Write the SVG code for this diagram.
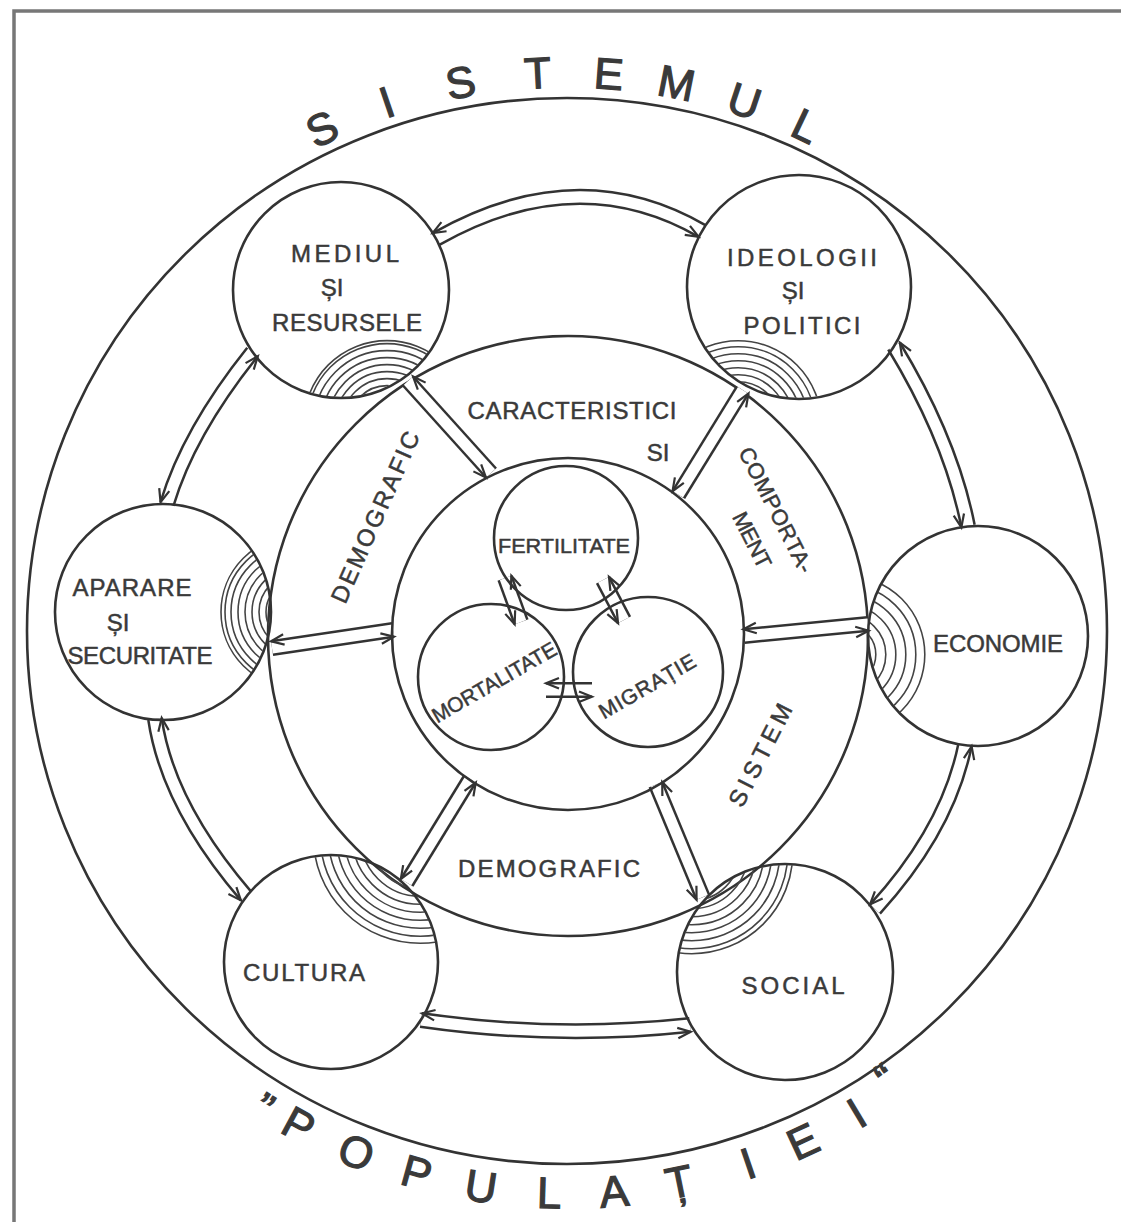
<svg xmlns="http://www.w3.org/2000/svg" width="1123" height="1228" viewBox="0 0 1123 1228">
<defs>
<style>
.ln{fill:none;stroke:#333;stroke-width:2.6}
.fr{fill:none;stroke:#777;stroke-width:3.5}
.h{fill:none;stroke:#444;stroke-width:1.6}
.o{fill:none;stroke:#333;stroke-width:16}
.i{fill:none;stroke:#fff;stroke-width:11}
.m{fill:none;stroke:none;marker-start:url(#ah);marker-end:url(#ah)}
text{font-family:"Liberation Sans",Arial,sans-serif;fill:#3a3a3a}
.t{font-size:24px;text-anchor:middle;dominant-baseline:central;stroke:#3a3a3a;stroke-width:0.5}
.c{font-size:22px;text-anchor:middle;dominant-baseline:central;stroke:#3a3a3a;stroke-width:0.5}
.s{font-size:21px;text-anchor:middle;dominant-baseline:central;stroke:#3a3a3a;stroke-width:0.5}
.big{font-size:44px;text-anchor:middle;dominant-baseline:central;stroke:#3a3a3a;stroke-width:1.2}
</style>
<marker id="ah" markerUnits="userSpaceOnUse" markerWidth="40" markerHeight="40" viewBox="-20 -20 40 40" refX="0" refY="0" orient="auto-start-reverse" overflow="visible">
<path d="M-13,1.5 L0,6.75 L-13,12" fill="none" stroke="#333" stroke-width="2.2"/>
</marker>
<clipPath id="k1"><circle cx="341" cy="290" r="107"/></clipPath>
<clipPath id="k2"><circle cx="799" cy="287" r="111"/></clipPath>
<clipPath id="k3"><circle cx="163" cy="612" r="107"/></clipPath>
<clipPath id="k4"><circle cx="978" cy="636" r="109"/></clipPath>
<clipPath id="k5"><circle cx="331" cy="962" r="106"/></clipPath>
<clipPath id="k6"><circle cx="785" cy="972" r="107"/></clipPath>
</defs>
<rect x="0" y="0" width="1123" height="1228" fill="#fff"/>
<g id="frame">
<polyline class="fr" points="14,1222 14,11 1121,11"/>
</g>
<g id="system-outer">
<ellipse class="ln" cx="567" cy="631" rx="540" ry="533"/>
<text class="big" x="567" y="72" transform="rotate(-26 567 631)">S</text>
<text class="big" x="567" y="72" transform="rotate(-18.8 567 631)">I</text>
<text class="big" x="567" y="72" transform="rotate(-11 567 631)">S</text>
<text class="big" x="567" y="72" transform="rotate(-3 567 631)">T</text>
<text class="big" x="567" y="72" transform="rotate(4.3 567 631)">E</text>
<text class="big" x="567" y="72" transform="rotate(11.3 567 631)">M</text>
<text class="big" x="567" y="72" transform="rotate(18.5 567 631)">U</text>
<text class="big" x="567" y="72" transform="rotate(25.3 567 631)">L</text>
<text class="big" x="567" y="1170" transform="rotate(32.5 567 631)">„</text>
<text class="big" x="567" y="1193" transform="rotate(28.5 567 631)">P</text>
<text class="big" x="567" y="1193" transform="rotate(22 567 631)">O</text>
<text class="big" x="567" y="1193" transform="rotate(15.5 567 631)">P</text>
<text class="big" x="567" y="1193" transform="rotate(8.8 567 631)">U</text>
<text class="big" x="567" y="1193" transform="rotate(1.8 567 631)">L</text>
<text class="big" x="567" y="1193" transform="rotate(-4.8 567 631)">A</text>
<text class="big" x="567" y="1193" transform="rotate(-11.5 567 631)">Ț</text>
<text class="big" x="567" y="1193" transform="rotate(-18.8 567 631)">I</text>
<text class="big" x="567" y="1193" transform="rotate(-24.8 567 631)">E</text>
<text class="big" x="567" y="1193" transform="rotate(-31 567 631)">I</text>
<text class="big" x="567" y="1180" transform="rotate(-35.5 567 631)">“</text>
</g>
<g id="ring-demografic">
<circle class="ln" cx="568" cy="636" r="300"/>
<text class="t" x="572" y="410" textLength="209" lengthAdjust="spacing">CARACTERISTICI</text>
<text class="t" x="658" y="452">SI</text>
<text class="t" x="375" y="517" textLength="185" lengthAdjust="spacing" transform="rotate(-66 375 517)">DEMOGRAFIC</text>
<text class="c" x="776" y="510" textLength="138" lengthAdjust="spacing" transform="rotate(63 776 510)">COMPORTA-</text>
<text class="c" x="752" y="540" textLength="60" lengthAdjust="spacing" transform="rotate(63 752 540)">MENT</text>
<text class="t" x="760" y="755" textLength="112" lengthAdjust="spacing" transform="rotate(-63 760 755)">SISTEM</text>
<text class="t" x="549" y="868" textLength="182" lengthAdjust="spacing">DEMOGRAFIC</text>
</g>
<g id="connectors">
<g><path class="o" d="M436,239 Q577,159 702,231"/><path class="i" d="M436,239 Q577,159 702,231"/><path class="m" d="M436,239 Q577,159 702,231"/></g>
<g><path class="o" d="M167,504 Q188.5,432 252.5,352"/><path class="i" d="M167,504 Q188.5,432 252.5,352"/><path class="m" d="M167,504 Q188.5,432 252.5,352"/></g>
<g><path class="o" d="M894,346 Q951,440 968,526"/><path class="i" d="M894,346 Q951,440 968,526"/><path class="m" d="M894,346 Q951,440 968,526"/></g>
<g><path class="o" d="M965,745 Q948,829 875,909"/><path class="i" d="M965,745 Q948,829 875,909"/><path class="m" d="M965,745 Q948,829 875,909"/></g>
<g><path class="o" d="M690,1025 Q556.5,1039.5 421,1020"/><path class="i" d="M690,1025 Q556.5,1039.5 421,1020"/><path class="m" d="M690,1025 Q556.5,1039.5 421,1020"/></g>
<g><path class="o" d="M246,896 Q167.5,804.5 155,719"/><path class="i" d="M246,896 Q167.5,804.5 155,719"/><path class="m" d="M246,896 Q167.5,804.5 155,719"/></g>
<g><path class="o" d="M408,381 L491,473"/><path class="i" d="M408,381 L491,473"/><path class="m" d="M408,381 L491,473"/></g>
<g><path class="o" d="M742.7,390 L678.3,494.7"/><path class="i" d="M742.7,390 L678.3,494.7"/><path class="m" d="M742.7,390 L678.3,494.7"/></g>
<g><path class="o" d="M272,648 L393,630"/><path class="i" d="M272,648 L393,630"/><path class="m" d="M272,648 L393,630"/></g>
<g><path class="o" d="M868,624 L744,636"/><path class="i" d="M868,624 L744,636"/><path class="m" d="M868,624 L744,636"/></g>
<g><path class="o" d="M406.6,882.5 L470,779"/><path class="i" d="M406.6,882.5 L470,779"/><path class="m" d="M406.6,882.5 L470,779"/></g>
<g><path class="o" d="M702.8,897.2 L656,784.5"/><path class="i" d="M702.8,897.2 L656,784.5"/><path class="m" d="M702.8,897.2 L656,784.5"/></g>
<g><path class="o" d="M505,578 L521,622"/><path class="i" d="M505,578 L521,622"/><path class="m" d="M505,578 L521,622"/></g>
<g><path class="o" d="M603,580 L624,620"/><path class="i" d="M603,580 L624,620"/><path class="m" d="M603,580 L624,620"/></g>
<g><path class="o" d="M546,690 L592,690"/><path class="i" d="M546,690 L592,690"/><path class="m" d="M546,690 L592,690"/></g>
</g>
<g id="node-mediul">
<g clip-path="url(#k1)" class="h"><circle cx="387" cy="423.6" r="38"/><circle cx="387" cy="423.6" r="45"/><circle cx="387" cy="423.6" r="52"/><circle cx="387" cy="423.6" r="59"/><circle cx="387" cy="423.6" r="66"/><circle cx="387" cy="423.6" r="73"/><circle cx="387" cy="423.6" r="80"/><circle cx="387" cy="423.6" r="83"/></g>
<circle class="ln" cx="341" cy="290" r="108"/>
<text class="t" x="345" y="253" textLength="108" lengthAdjust="spacing">MEDIUL</text>
<text class="t" x="332" y="287">ȘI</text>
<text class="t" x="347" y="322" textLength="150" lengthAdjust="spacing">RESURSELE</text>
</g>
<g id="node-ideologii">
<g clip-path="url(#k2)" class="h"><circle cx="738.2" cy="423.7" r="42"/><circle cx="738.2" cy="423.7" r="49"/><circle cx="738.2" cy="423.7" r="56"/><circle cx="738.2" cy="423.7" r="63"/><circle cx="738.2" cy="423.7" r="70"/><circle cx="738.2" cy="423.7" r="77"/><circle cx="738.2" cy="423.7" r="83"/></g>
<circle class="ln" cx="799" cy="287" r="112"/>
<text class="t" x="802" y="257" textLength="150" lengthAdjust="spacing">IDEOLOGII</text>
<text class="t" x="793" y="290">ȘI</text>
<text class="t" x="802" y="325" textLength="117" lengthAdjust="spacing">POLITICI</text>
</g>
<g id="node-aparare">
<g clip-path="url(#k3)" class="h"><circle cx="297" cy="612" r="31"/><circle cx="297" cy="612" r="38"/><circle cx="297" cy="612" r="45"/><circle cx="297" cy="612" r="52"/><circle cx="297" cy="612" r="59"/><circle cx="297" cy="612" r="66"/><circle cx="297" cy="612" r="72"/><circle cx="297" cy="612" r="76"/></g>
<circle class="ln" cx="163" cy="612" r="108"/>
<text class="t" x="132" y="587" textLength="119" lengthAdjust="spacing">APARARE</text>
<text class="t" x="118" y="622">ȘI</text>
<text class="t" x="140" y="655" textLength="145" lengthAdjust="spacing">SECURITATE</text>
</g>
<g id="node-economie">
<g clip-path="url(#k4)" class="h"><circle cx="845.8" cy="654.6" r="30"/><circle cx="845.8" cy="654.6" r="40"/><circle cx="845.8" cy="654.6" r="50"/><circle cx="845.8" cy="654.6" r="60"/><circle cx="845.8" cy="654.6" r="70"/><circle cx="845.8" cy="654.6" r="79"/></g>
<circle class="ln" cx="978" cy="636" r="110"/>
<text class="t" x="998" y="643" textLength="130" lengthAdjust="spacing">ECONOMIE</text>
</g>
<g id="node-cultura">
<g clip-path="url(#k5)" class="h"><circle cx="420.3" cy="836.3" r="52"/><circle cx="420.3" cy="836.3" r="60"/><circle cx="420.3" cy="836.3" r="68"/><circle cx="420.3" cy="836.3" r="76"/><circle cx="420.3" cy="836.3" r="84"/><circle cx="420.3" cy="836.3" r="92"/><circle cx="420.3" cy="836.3" r="100"/><circle cx="420.3" cy="836.3" r="107"/></g>
<circle class="ln" cx="331" cy="962" r="107"/>
<text class="t" x="304" y="972" textLength="122" lengthAdjust="spacing">CULTURA</text>
</g>
<g id="node-social">
<g clip-path="url(#k6)" class="h"><circle cx="691.8" cy="852.7" r="48"/><circle cx="691.8" cy="852.7" r="56"/><circle cx="691.8" cy="852.7" r="64"/><circle cx="691.8" cy="852.7" r="72"/><circle cx="691.8" cy="852.7" r="80"/><circle cx="691.8" cy="852.7" r="88"/><circle cx="691.8" cy="852.7" r="96"/><circle cx="691.8" cy="852.7" r="101"/></g>
<circle class="ln" cx="785" cy="972" r="108"/>
<text class="t" x="793" y="985" textLength="103" lengthAdjust="spacing">SOCIAL</text>
</g>
<g id="node-inner">
<circle class="ln" cx="568" cy="634" r="176"/>
</g>
<g id="node-fertilitate">
<circle class="ln" cx="566" cy="538" r="72"/>
<text class="s" x="564" y="545" textLength="132" lengthAdjust="spacingAndGlyphs">FERTILITATE</text>
</g>
<g id="node-mortalitate">
<circle class="ln" cx="491" cy="677" r="73"/>
<text class="s" x="494" y="682" textLength="140" lengthAdjust="spacingAndGlyphs" transform="rotate(-30 494 682)">MORTALITATE</text>
</g>
<g id="node-migratie">
<circle class="ln" cx="648" cy="672" r="75"/>
<text class="s" x="647" y="686" textLength="108" lengthAdjust="spacing" transform="rotate(-30 647 686)">MIGRAȚIE</text>
</g>
</svg>
